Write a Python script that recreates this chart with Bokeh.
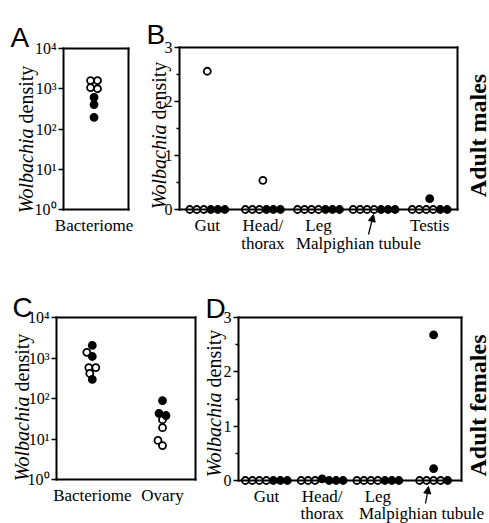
import math
from bokeh.plotting import figure
from bokeh.models import (FixedTicker, Label, Arrow, NormalHead, LinearAxis, LogAxis,
                          Range1d)
from bokeh.layouts import column, row
from bokeh.embed import file_html
from bokeh.resources import INLINE

# ---------------- data ----------------
male_bacteriome_open = [1600, 1600, 1070, 1000]
male_bacteriome_filled = [610, 405, 195]

male_tissues = ["Gut", "Head/", "Leg", "", "Testis"]
male_open = [[2.56, 0, 0, 0], [0.54, 0, 0, 0], [0, 0, 0, 0], [0, 0, 0, 0], [0, 0, 0, 0]]
male_filled = [[0, 0, 0], [0, 0, 0], [0, 0, 0], [0, 0, 0], [0.20, 0, 0]]

female_organs = ["Bacteriome", "Ovary"]
female_organ_open = [[1380, 580, 580, 415], [30, 19, 9.2, 6.9]]
female_organ_filled = [[2040, 1090, 295], [89, 43, 38]]

female_tissues = ["Gut", "Head/", "Leg", ""]
female_open = [[0, 0, 0, 0], [0, 0, 0], [0, 0, 0, 0], [0, 0, 0, 0]]
female_filled = [[0, 0, 0], [0.03, 0, 0, 0], [0, 0, 0], [2.68, 0.22, 0]]

log_ticks = [1, 10, 100, 1000, 10000]
log_tick_labels = ["10⁰", "10¹", "10²", "10³", "10⁴"]
lin_ticks = [0, 1, 2, 3]
lin_minor_ticks = [0.5, 1.5, 2.5]
second_line_text = "thorax"
malp_text = "Malpighian tubule"

SERIF = "Liberation Serif"
SANS = "Liberation Sans"
MARK = 7
STEP = 7.0
CAT_SIZE = "17px"


class Panel:
    """canvas and data-box geometry in page pixels"""
    def __init__(self, canvas, box, xr, yr, log):
        self.cl, self.ct, self.cw, self.ch = canvas
        self.fl, self.ft, self.fw, self.fh = box
        self.xr, self.yr, self.log = xr, yr, log

    def xpx(self):
        return self.fw / (self.xr[1] - self.xr[0])

    def ypx(self):
        if self.log:
            return self.fh / (math.log10(self.yr[1]) - math.log10(self.yr[0]))
        return self.fh / (self.yr[1] - self.yr[0])

    def x_range(self):
        u = self.xpx()
        return (self.xr[0] - (self.fl - self.cl) / u,
                self.xr[1] + (self.cl + self.cw - self.fl - self.fw) / u)

    def y_range(self):
        u = self.ypx()
        top_px = self.ft - self.ct
        bot_px = self.ct + self.ch - self.ft - self.fh
        if self.log:
            return (10 ** (math.log10(self.yr[0]) - bot_px / u),
                    10 ** (math.log10(self.yr[1]) + top_px / u))
        return (self.yr[0] - bot_px / u, self.yr[1] + top_px / u)

    def to_data(self, px, py):
        x = self.xr[0] + (px - self.fl) / self.xpx()
        if self.log:
            y = 10 ** (math.log10(self.yr[1]) - (py - self.ft) / self.ypx())
        else:
            y = self.yr[1] - (py - self.ft) / self.ypx()
        return x, y


PA = Panel((0, 0, 145, 258), (63, 48, 65, 161), (0.53, 1.53), (1, 1e4), True)
PB = Panel((145, 0, 344, 258), (179, 47, 278, 162), (0.5, 5.5), (0, 3), False)
PC = Panel((0, 258, 203, 265), (56, 317, 139, 162), (0.49, 2.47), (1, 1e4), True)
PD = Panel((203, 258, 286, 265), (238, 317, 223, 163), (0.5, 4.5), (0, 3), False)


def style_axis(ax, size="16px"):
    ax.axis_line_width = 2
    ax.axis_line_color = "black"
    ax.axis_line_cap = "square"
    ax.major_tick_line_width = 1.5
    ax.minor_tick_line_width = 1.5
    ax.major_label_text_font = SERIF
    ax.major_label_text_font_size = size
    ax.major_label_text_color = "black"


def make_fig(P, xticks, xlabels):
    p = figure(frame_width=P.cw, frame_height=P.ch,
               x_range=Range1d(*P.x_range()), y_range=Range1d(*P.y_range()),
               y_axis_type="log" if P.log else "linear",
               output_backend="svg", toolbar_location=None, title=None,
               min_border=0, min_border_left=0, min_border_right=0,
               min_border_top=0, min_border_bottom=0,
               background_fill_color="white", border_fill_color="white")
    p.xgrid.visible = False
    p.ygrid.visible = False
    p.outline_line_color = None

    ya = p.yaxis[0]
    xa = p.xaxis[0]

    style_axis(ya, "16px")
    ya.fixed_location = P.xr[0]
    ya.bounds = P.yr
    ya.major_tick_in = 0
    ya.major_tick_out = 5
    ya.minor_tick_in = 0
    ya.minor_tick_out = 3
    ya.major_label_standoff = 2
    if P.log:
        ya.ticker = FixedTicker(ticks=log_ticks, minor_ticks=[])
        ya.major_label_overrides = {t: s for t, s in zip(log_ticks, log_tick_labels)}
    else:
        ya.ticker = FixedTicker(ticks=lin_ticks, minor_ticks=lin_minor_ticks)

    style_axis(xa, CAT_SIZE)
    xa.fixed_location = P.yr[0]
    xa.bounds = P.xr
    xa.ticker = FixedTicker(ticks=xticks, minor_ticks=[])
    xa.major_label_overrides = {t: s for t, s in zip(xticks, xlabels)}
    xa.major_tick_line_color = None
    xa.minor_tick_line_color = None
    xa.major_tick_in = 0
    xa.major_tick_out = 0
    xa.major_label_standoff = 6

    AxisY = LogAxis if P.log else LinearAxis
    right = AxisY(ticker=FixedTicker(ticks=[]), fixed_location=P.xr[1], bounds=P.yr,
                  major_tick_line_color=None, minor_tick_line_color=None,
                  major_label_text_font_size="0px")
    style_axis(right)
    p.add_layout(right, "right")
    top = LinearAxis(ticker=FixedTicker(ticks=[]), fixed_location=P.yr[1], bounds=P.xr,
                     major_tick_line_color=None, minor_tick_line_color=None,
                     major_label_text_font_size="0px")
    style_axis(top)
    p.add_layout(top, "above")
    return p


def swarm_offsets(open_vals, filled_vals, ypix):
    pts = [(v, False) for v in open_vals] + [(v, True) for v in filled_vals]
    ys = [ypix(v) for v, _ in pts]
    order = sorted(range(len(pts)), key=lambda i: (ys[i], i))
    clusters = []
    for i in order:
        if clusters and ys[i] - ys[clusters[-1][-1]] < 2.5:
            clusters[-1].append(i)
        else:
            clusters.append([i])
    offs = [0.0] * len(pts)
    placed = []
    cands = [0.0]
    for k in range(1, 80):
        cands += [-0.5 * k, 0.5 * k]
    for cl in clusters:
        cl = sorted(cl)
        if len(cl) > 1:
            m = len(cl)
            for k, i in enumerate(cl):
                offs[i] = (k - (m - 1) / 2) * STEP
                placed.append(i)
        else:
            i = cl[0]
            for c in cands:
                if all(math.hypot(c - offs[j], ys[i] - ys[j]) >= 6.5 for j in placed):
                    break
            offs[i] = c
            placed.append(i)
    return pts, offs


def draw_swarm(p, P, positions, opens, filleds):
    if P.log:
        ypix = lambda v: math.log10(v) * P.ypx()
    else:
        ypix = lambda v: v * P.ypx()
    xo, yo, xf, yf = [], [], [], []
    for pos, ov, fv in zip(positions, opens, filleds):
        pts, offs = swarm_offsets(ov, fv, ypix)
        for (v, filled), off in zip(pts, offs):
            x = pos + off / P.xpx()
            if filled:
                xf.append(x); yf.append(v)
            else:
                xo.append(x); yo.append(v)
    p.scatter(xo, yo, marker="circle", size=MARK, fill_color="white",
              line_color="black", line_width=1.8)
    p.scatter(xf, yf, marker="circle", size=MARK, fill_color="black",
              line_color="black", line_width=1.8)


def label(p, P, px, py, text, **kw):
    x, y = P.to_data(px, py)
    p.add_layout(Label(x=x, y=y, text=text, **kw))


def ylabel(p, P, px, py):
    base = dict(angle=math.pi / 2, text_baseline="middle", text_font=SERIF,
                text_font_size="20px", text_color="black")
    label(p, P, px, py, "Wolbachia", text_align="right", text_font_style="italic", **base)
    label(p, P, px, py - 5, "density", text_align="left", **base)


def letter(p, P, px, py, t):
    label(p, P, px, py, t, text_font=SANS, text_font_size="28px",
          text_align="left", text_baseline="alphabetic", text_color="black")


def side_title(p, P, px, py, t):
    label(p, P, px, py, t, angle=math.pi / 2, text_font=SERIF, text_font_size="24px",
          text_font_style="bold", text_align="center", text_baseline="middle",
          text_color="black")


def cat_text(p, P, x_data, py, t):
    _, y = P.to_data(0, py)
    p.add_layout(Label(x=x_data, y=y, text=t, text_font=SERIF, text_font_size=CAT_SIZE,
                       text_align="center", text_baseline="middle", text_color="black"))


def arrow(p, P, p0, p1):
    x0, y0 = P.to_data(*p0)
    x1, y1 = P.to_data(*p1)
    p.add_layout(Arrow(end=NormalHead(size=7, fill_color="black", line_color="black"),
                       x_start=x0, y_start=y0, x_end=x1, y_end=y1,
                       line_width=1.3, line_color="black"))


# ---- A ----
pA = make_fig(PA, [1], ["Bacteriome"])
draw_swarm(pA, PA, [1], [male_bacteriome_open], [male_bacteriome_filled])
ylabel(pA, PA, 25, 128)
letter(pA, PA, 10, 37, "A")

# ---- B ----
mpos = list(range(1, len(male_tissues) + 1))
pB = make_fig(PB, mpos, male_tissues)
draw_swarm(pB, PB, mpos, male_open, male_filled)
ylabel(pB, PB, 158, 124)
letter(pB, PB, 146, 34, "B")
side_title(pB, PB, 477, 135, "Adult males")
cat_text(pB, PB, mpos[1], 243, second_line_text)
label(pB, PB, 358, 243, malp_text, text_font=SERIF, text_font_size=CAT_SIZE,
      text_align="center", text_baseline="middle", text_color="black")
arrow(pB, PB, (368, 234), (373, 214))

# ---- C ----
cpos = list(range(1, len(female_organs) + 1))
pC = make_fig(PC, cpos, female_organs)
draw_swarm(pC, PC, cpos, female_organ_open, female_organ_filled)
ylabel(pC, PC, 21, 396)
letter(pC, PC, 12, 307, "C")

# ---- D ----
fpos = list(range(1, len(female_tissues) + 1))
pD = make_fig(PD, fpos, female_tissues)
draw_swarm(pD, PD, fpos, female_open, female_filled)
ylabel(pD, PD, 213, 392)
letter(pD, PD, 205, 308, "D")
side_title(pD, PD, 477, 405, "Adult females")
cat_text(pD, PD, fpos[1], 513, second_line_text)
label(pD, PD, 421, 513, malp_text, text_font=SERIF, text_font_size=CAT_SIZE,
      text_align="center", text_baseline="middle", text_color="black")
arrow(pD, PD, (425, 503), (428, 486))

layout = column(row(pA, pB), row(pC, pD))
open("out.html", "w").write(file_html(layout, INLINE))
